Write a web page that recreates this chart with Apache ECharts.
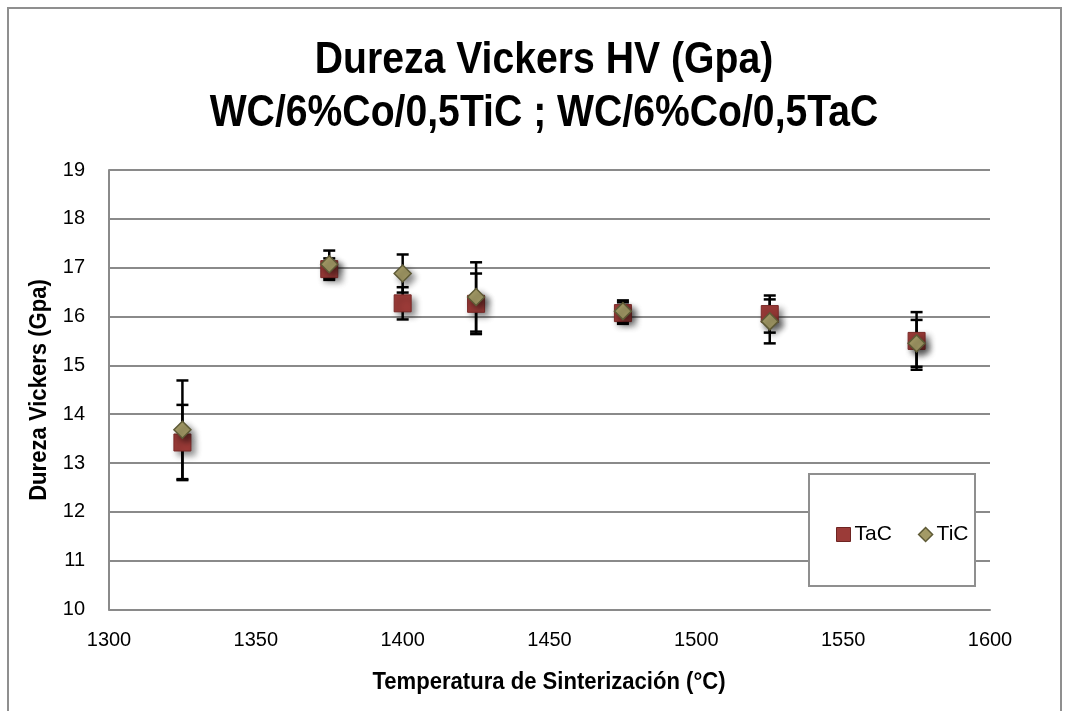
<!DOCTYPE html>
<html>
<head>
<meta charset="utf-8">
<script src="https://cdn.jsdelivr.net/npm/echarts@6/dist/echarts.min.js"></script>
<style>
  html, body { margin: 0; padding: 0; background: #fff; }
  #chart { width: 1068px; height: 711px; }
</style>
</head>
<body>
<div id="chart"></div>
<script>
// Sintering temperature (°C) and Vickers hardness (GPa) with standard deviations
const temps  = [1325, 1375, 1400, 1425, 1475, 1525, 1575];
const tacVals = [13.42, 16.97, 16.27, 16.26, 16.07, 16.05, 15.50];
const tacErr  = [0.77, 0.22, 0.33, 0.62, 0.22, 0.38, 0.59];
const ticVals = [13.68, 17.07, 16.88, 16.40, 16.11, 15.90, 15.45];
const ticErr  = [1.01, 0.28, 0.39, 0.71, 0.22, 0.45, 0.48];
const xTicks = [1300, 1350, 1400, 1450, 1500, 1550, 1600];
const yTicks = [10, 11, 12, 13, 14, 15, 16, 17, 18, 19];

const SANS = "'Liberation Sans', Arial, sans-serif";
const GRID_GRAY = '#8a8a8a';

const chart = echarts.init(document.getElementById('chart'), null, { renderer: 'canvas' });

function pairs(vals) { return temps.map((t, i) => [t, vals[i]]); }
function errRows(vals, errs) { return temps.map((t, i) => [t, vals[i] - errs[i], vals[i] + errs[i]]); }

// vertical whisker with caps at both ends
function renderErr(params, api) {
  const x = api.value(0);
  const lo = api.coord([x, api.value(1)]);
  const hi = api.coord([x, api.value(2)]);
  const half = 6;
  const style = { stroke: '#000', lineWidth: 2.5 };
  return {
    type: 'group',
    children: [
      { type: 'line', shape: { x1: lo[0], y1: lo[1], x2: hi[0], y2: hi[1] }, style },
      { type: 'line', shape: { x1: lo[0] - half, y1: lo[1], x2: lo[0] + half, y2: lo[1] }, style },
      { type: 'line', shape: { x1: hi[0] - half, y1: hi[1], x2: hi[0] + half, y2: hi[1] }, style }
    ]
  };
}

// bold, slightly condensed heading text
function heading(text, x, y, size, squeeze, rotation) {
  return {
    type: 'text', z: 10, x, y, rotation: rotation || 0, scaleX: squeeze,
    style: { text, fill: '#000', align: 'center', verticalAlign: 'middle',
             font: 'bold ' + size + 'px ' + SANS }
  };
}

const markerShadow = { shadowBlur: 6, shadowColor: 'rgba(0,0,0,0.45)', shadowOffsetX: 4, shadowOffsetY: 4 };

chart.setOption({
  animation: false,
  backgroundColor: '#fff',
  graphic: [
    { type: 'rect', z: 0, shape: { x: 8, y: 8, width: 1053, height: 720 },
      style: { fill: 'none', stroke: '#8f8f8f', lineWidth: 2 } },
    heading('Dureza Vickers HV (Gpa)', 544, 61, 44, 0.89),
    heading('WC/6%Co/0,5TiC ; WC/6%Co/0,5TaC', 544, 114, 44, 0.89),
    heading('Temperatura de Sinterización (°C)', 549, 683, 23, 0.96),
    heading('Dureza Vickers (Gpa)', 40, 390, 23, 0.96, Math.PI / 2),
    { type: 'rect', z: 20, shape: { x: 809, y: 474, width: 166, height: 112 },
      style: { fill: '#fff', stroke: '#8f8f8f', lineWidth: 2 } }
  ],
  legend: {
    z: 30,
    left: 831, top: 519,
    itemWidth: 14, itemHeight: 14, itemGap: 26,
    textStyle: { fontFamily: SANS, fontSize: 21, color: '#000', padding: [0, 0, 0, -1] },
    data: [
      { name: 'TaC', icon: 'rect', itemStyle: { color: '#9B3B38', borderColor: '#6E2422', borderWidth: 1 } },
      { name: 'TiC', icon: 'diamond', itemStyle: { color: '#A39A66', borderColor: '#5E5A36', borderWidth: 1.5 } }
    ]
  },
  grid: { left: 109, right: 78, top: 170, bottom: 101.5, containLabel: false },
  xAxis: {
    type: 'value', min: xTicks[0], max: xTicks[xTicks.length - 1], interval: 50,
    axisLine: { show: true, lineStyle: { color: GRID_GRAY, width: 2 } },
    axisTick: { show: false },
    splitLine: { show: false },
    axisLabel: { fontFamily: SANS, fontSize: 20, color: '#000', margin: 21,
                 formatter: v => String(v) }
  },
  yAxis: {
    type: 'value', min: yTicks[0], max: yTicks[yTicks.length - 1], interval: 1,
    axisLine: { show: true, lineStyle: { color: GRID_GRAY, width: 2 } },
    axisTick: { show: false },
    splitLine: { show: true, lineStyle: { color: GRID_GRAY, width: 2 } },
    axisLabel: { fontFamily: SANS, fontSize: 20, color: '#000', margin: 24,
                 formatter: v => String(v) }
  },
  series: [
    { name: 'TaC-err', type: 'custom', renderItem: renderErr, data: errRows(tacVals, tacErr), z: 3,
      encode: { x: 0, y: [1, 2] }, silent: true },
    { name: 'TiC-err', type: 'custom', renderItem: renderErr, data: errRows(ticVals, ticErr), z: 3,
      encode: { x: 0, y: [1, 2] }, silent: true },
    { name: 'TaC', type: 'scatter', symbol: 'rect', symbolSize: 17, z: 5,
      itemStyle: Object.assign({ color: '#9B3B38', borderColor: '#7A2A28', borderWidth: 1, opacity: 1 }, markerShadow),
      data: pairs(tacVals) },
    { name: 'TiC', type: 'scatter', symbol: 'diamond', symbolSize: 17, z: 6,
      itemStyle: Object.assign({ color: '#A39A66', borderColor: '#5E5A36', borderWidth: 1.5, opacity: 1 }, markerShadow),
      data: pairs(ticVals) }
  ]
});
</script>
</body>
</html>
